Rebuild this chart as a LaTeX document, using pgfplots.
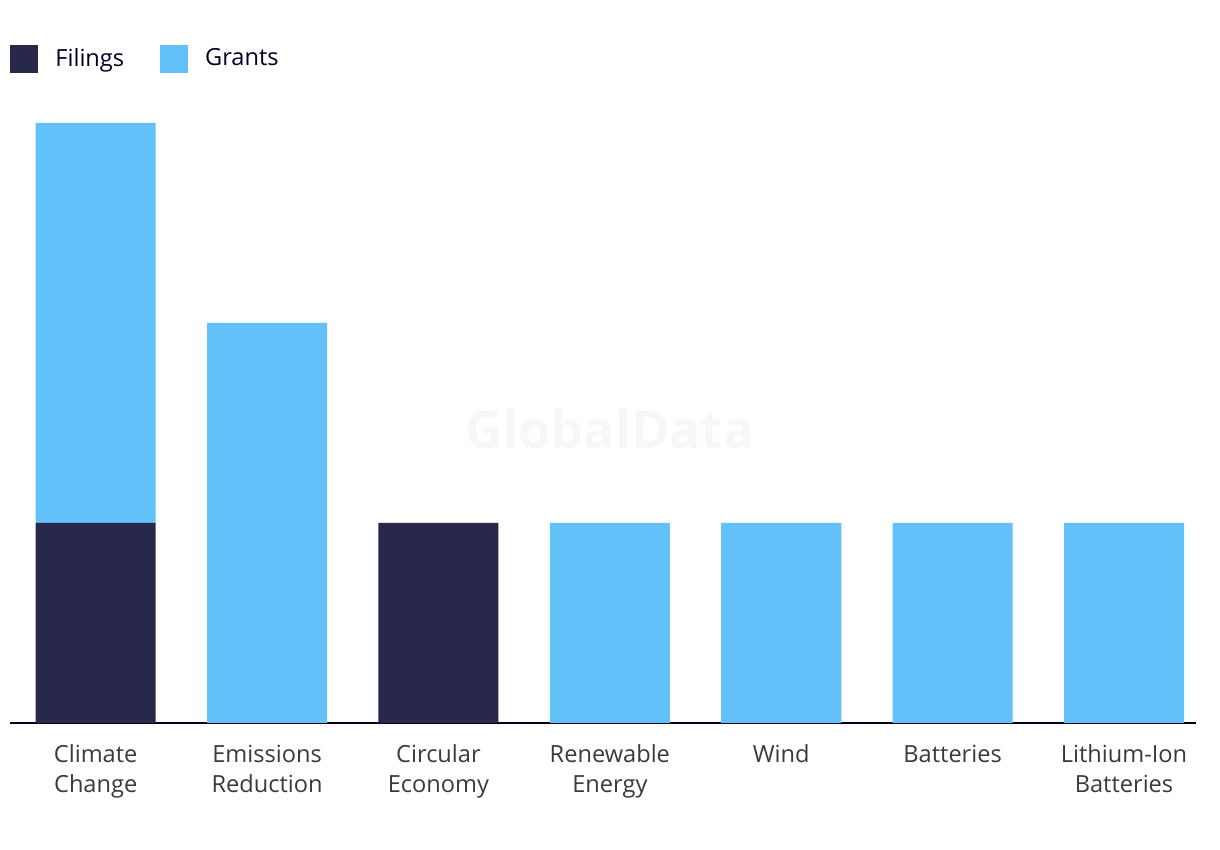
\documentclass[border=0pt]{standalone}
\usepackage{fontspec}
\setmainfont{Open Sans}
\usepackage{pgfplots}
\pgfplotsset{compat=1.18}

\definecolor{filings}{HTML}{28284A}
\definecolor{grants}{HTML}{62C1F8}
\definecolor{lbl}{HTML}{3A3A3A}

\begin{document}
\begin{tikzpicture}
\path[use as bounding box] (0,0) rectangle (610pt,425pt);
\begin{axis}[
  at={(5pt,63.5pt)}, anchor=south west,
  scale only axis,
  width=593pt, height=300pt,
  ybar stacked,
  bar width=60pt,
  xmin=-0.5, xmax=6.42,
  ymin=0, ymax=3,
  axis x line*=bottom,
  axis y line=none,
  x axis line style={line width=1pt, color=black!90!blue},
  xtick={0,...,6},
  xtick style={draw=none},
  xticklabels={{Climate\\Change},{Emissions\\Reduction},{Circular\\Economy},{Renewable\\Energy},{Wind},{Batteries},{Lithium-Ion\\Batteries}},
  xticklabel style={align=center, font=\fontsize{11.8}{15}\selectfont, text=lbl, yshift=-7.5pt},
  legend columns=2,
  legend style={at={(0,1.107)}, anchor=west, draw=none, fill=none, inner sep=0pt,
    font=\fontsize{11.8}{13}\selectfont, text=black!85!blue,
    /tikz/every even column/.append style={column sep=16pt}},
  legend cell align=left,
  legend image code/.code={\fill[#1] (0pt,-7pt) rectangle (14pt,7pt); \path (20.5pt,0pt);},
  clip=false,
]
\node[font=\fontsize{26}{30}\selectfont\bfseries, text=black!3] at (rel axis cs:0.506,0.49) {GlobalData};
\addplot[fill=filings, draw=none] coordinates {(0,1) (1,0) (2,1) (3,0) (4,0) (5,0) (6,0)};
\addplot[fill=grants, draw=none] coordinates {(0,2) (1,2) (2,0) (3,1) (4,1) (5,1) (6,1)};
\legend{Filings, Grants}
\end{axis}
\end{tikzpicture}
\end{document}
